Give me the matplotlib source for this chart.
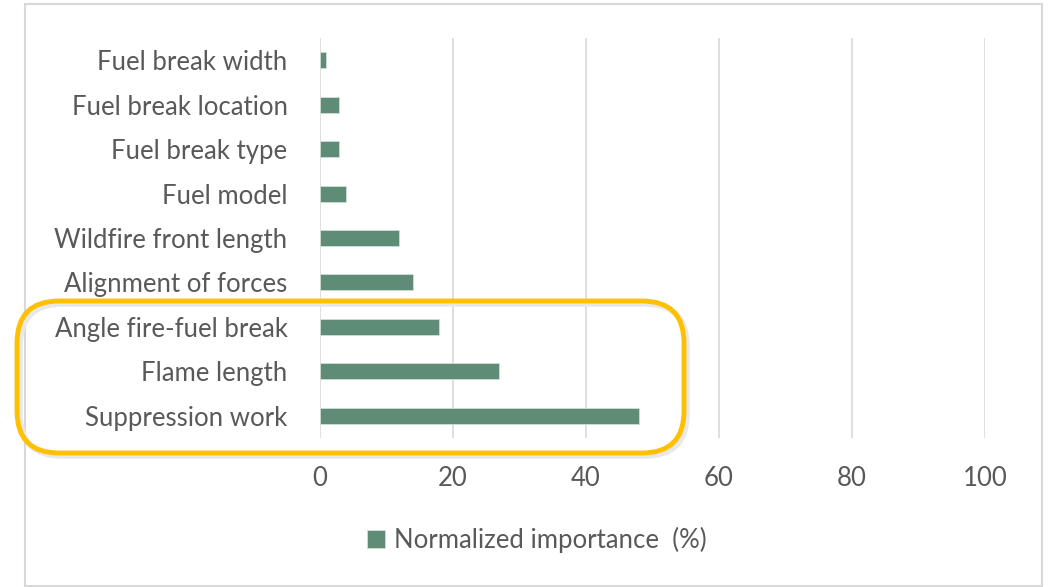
import matplotlib

matplotlib.use("Agg")
import matplotlib.pyplot as plt
from matplotlib.patches import FancyBboxPatch, Rectangle

categories = [
    "Suppression work",
    "Flame length",
    "Angle fire-fuel break",
    "Alignment of forces",
    "Wildfire front length",
    "Fuel model",
    "Fuel break type",
    "Fuel break location",
    "Fuel break width",
]
importance = [48, 27, 18, 14, 12, 4, 3, 3, 1]
x_ticks = [0, 20, 40, 60, 80, 100]

BAR = "#5E8C77"
TEXT = "#595959"
GRID = "#D9D9D9"
GOLD = "#FFC000"

plt.rcParams["font.family"] = ["Lato", "DejaVu Sans"]

W, H = 1051, 587
fig = plt.figure(figsize=(W / 100, H / 100), dpi=100)


def fx(px):
    return px / W


def fy(py):
    return 1 - py / H


ax = fig.add_axes([fx(319.5), fy(438), fx(985) - fx(319.5), fy(38) - fy(438)])
ax.barh(range(len(categories)), importance, height=0.36, color=BAR,
        edgecolor="#CFE0D6", linewidth=0.6, zorder=3, label="Normalized importance  (%)")
ax.set_ylim(-0.5, len(categories) - 0.5)
ax.set_xlim(0, 100)
ax.set_yticks(range(len(categories)))
ax.set_yticklabels(categories, fontsize=18.5, color=TEXT)
ax.set_xticks(x_ticks)
ax.set_xticklabels([str(t) for t in x_ticks], fontsize=18.5, color=TEXT)
ax.tick_params(axis="y", length=0, pad=23)
ax.tick_params(axis="x", length=0, pad=20)
ax.grid(axis="x", color=GRID, linewidth=1.2, zorder=0)
for s in ax.spines.values():
    s.set_visible(False)

fig.legend(loc="center", bbox_to_anchor=(fx(537), fy(540)), frameon=False,
           fontsize=18.5, labelcolor=TEXT, handlelength=0.7, handleheight=0.7,
           handletextpad=0.35)

# chart area border
fig.patches.append(Rectangle((fx(25), fy(586)), fx(1042) - fx(25), fy(4) - fy(586),
                             transform=fig.transFigure, fill=False,
                             edgecolor="#D9D9D9", linewidth=1.5, zorder=0))

# highlight box around the top three drivers (with a soft shadow)
x0, y0, x1, y1 = 17, 301, 684, 453
for off, col, lw in [(3, "#E8E8E8", 4), (0, GOLD, 3.5)]:
    fig.patches.append(FancyBboxPatch(
        (fx(x0 + off), fy(y1 + off)), fx(x1) - fx(x0), fy(y0) - fy(y1),
        boxstyle="round,pad=0,rounding_size=0.04",
        transform=fig.transFigure, fill=False, edgecolor=col,
        linewidth=lw, zorder=5, mutation_aspect=W / H))

fig.savefig("out.png", dpi=100)
